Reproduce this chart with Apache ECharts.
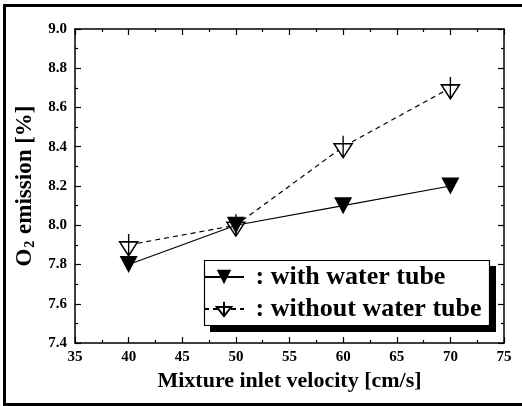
<!DOCTYPE html>
<html>
<head>
<meta charset="utf-8">
<script src="https://cdn.jsdelivr.net/npm/echarts@6/dist/echarts.min.js"></script>
<style>
html,body{margin:0;padding:0;background:#fff;}
#main{width:522px;height:406px;}
</style>
</head>
<body>
<div id="main"></div>
<script>
const velocity = [40, 50, 60, 70];
const withTube = [7.8, 8.0, 8.1, 8.2];
const withoutTube = [7.9, 8.0, 8.4, 8.7];
const seriesNames = [': with water tube', ': without water tube'];
const xTitle = 'Mixture inlet velocity [cm/s]';

const FONT = '"Liberation Serif", "Times New Roman", serif';
const chart = echarts.init(document.getElementById('main'), null, {renderer: 'canvas'});

function axisCommon() {
  return {
    axisLine: {show: true, lineStyle: {color: '#000', width: 1.5}},
    axisTick: {show: true, inside: true, length: 6, lineStyle: {color: '#000', width: 1.2}},
    minorTick: {show: true, splitNumber: 2, length: 3, lineStyle: {color: '#000', width: 1.2}},
    splitLine: {show: false},
    minorSplitLine: {show: false}
  };
}

const option = {
  backgroundColor: '#fff',
  animation: false,
  grid: {left: 75, top: 29, right: 18, bottom: 63},
  graphic: [
    {
      type: 'rect', z: 100, silent: true,
      shape: {x: 4.5, y: 5.5, width: 600, height: 399},
      style: {fill: 'none', stroke: '#000', lineWidth: 3}
    },
    {
      type: 'rect', z: 20, silent: true,
      shape: {x: 210, y: 266, width: 286, height: 66},
      style: {fill: '#000'}
    },
    {
      type: 'rect', z: 21, silent: true,
      shape: {x: 204.5, y: 260.5, width: 285, height: 65},
      style: {fill: '#fff', stroke: '#000', lineWidth: 1.2}
    }
  ],
  legend: {
    orient: 'vertical',
    left: 203, top: 260, z: 30,
    itemWidth: 40, itemHeight: 18, itemGap: 6,
    padding: [4, 7, 4, 0],
    formatter: n => ' ' + n,
    textStyle: {fontFamily: FONT, fontWeight: 'bold', fontSize: 26, color: '#000'},
    data: seriesNames
  },
  xAxis: [
    Object.assign(axisCommon(), {
      type: 'value', position: 'bottom', min: 35, max: 75, interval: 5,
      name: xTitle, nameLocation: 'middle', nameGap: 22,
      nameTextStyle: {fontFamily: FONT, fontWeight: 'bold', fontSize: 22, color: '#000'},
      axisLabel: {fontFamily: FONT, fontWeight: 'bold', fontSize: 15, color: '#000', margin: 7}
    }),
    Object.assign(axisCommon(), {
      type: 'value', position: 'top', min: 35, max: 75, interval: 5,
      axisLabel: {show: false}
    })
  ],
  yAxis: [
    Object.assign(axisCommon(), {
      type: 'value', position: 'left', min: 7.4, max: 9.0, interval: 0.2,
      name: '{a|O}{s|2}{a| emission [%]}', nameLocation: 'middle', nameGap: 37, nameRotate: 90,
      nameTextStyle: {
        fontFamily: FONT, fontWeight: 'bold', fontSize: 23, color: '#000',
        rich: {
          a: {fontFamily: FONT, fontWeight: 'bold', fontSize: 23, color: '#000'},
          s: {fontFamily: FONT, fontWeight: 'bold', fontSize: 14, color: '#000', verticalAlign: 'bottom', padding: [10, 1, 0, 1]}
        }
      },
      axisLabel: {fontFamily: FONT, fontWeight: 'bold', fontSize: 15, color: '#000', margin: 8,
        formatter: v => v.toFixed(1)}
    }),
    Object.assign(axisCommon(), {
      type: 'value', position: 'right', min: 7.4, max: 9.0, interval: 0.2,
      axisLabel: {show: false}
    })
  ],
  series: [
    {
      name: seriesNames[0], type: 'line',
      data: velocity.map((v, i) => [v, withTube[i]]),
      symbol: 'path://M0,0L18,0L9,17Z', symbolSize: [18, 17],
      itemStyle: {color: '#000', borderWidth: 0},
      lineStyle: {color: '#000', width: 1.2, type: 'solid'},
      z: 3
    },
    {
      name: seriesNames[1], type: 'line',
      data: velocity.map((v, i) => [v, withoutTube[i]]),
      symbol: 'path://M9,0L9,22M0,8L18,8L9,22Z', symbolSize: [18, 22],
      itemStyle: {color: '#fff', borderColor: '#000', borderWidth: 1.5},
      lineStyle: {color: '#000', width: 1.2, type: [5, 4]},
      z: 2
    }
  ]
};
chart.setOption(option);
</script>
</body>
</html>
